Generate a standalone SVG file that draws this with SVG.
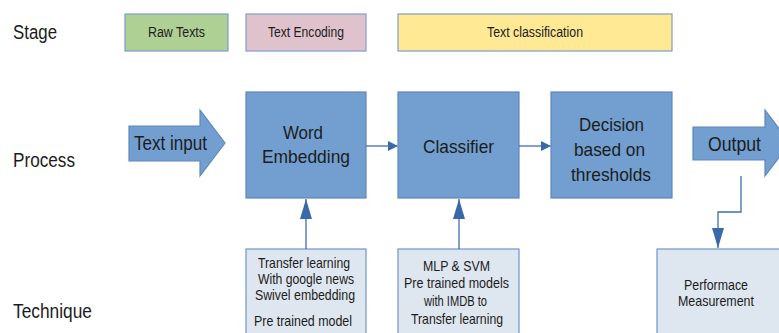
<svg xmlns="http://www.w3.org/2000/svg" width="779" height="333" viewBox="0 0 779 333">
<style>
text{font-family:"Liberation Sans",Arial,sans-serif;fill:#1c1c1c}
.lbl{font-size:19.5px}
.stg{font-size:14px}
.big{font-size:18.5px}
.sm{font-size:15px}
.blue{fill:#729fcf;stroke:#5f87bd;stroke-width:1.2}
.tech{fill:#dee6ef;stroke:#7195c6;stroke-width:1.2}
.stage{stroke:#7f9dc7;stroke-width:1.2}
.con{fill:none;stroke:#3f6eae;stroke-width:1.3}
</style>
<defs>
<marker id="ah" markerWidth="10" markerHeight="10" refX="9" refY="5" orient="auto" markerUnits="userSpaceOnUse">
<path d="M0,0 L10,5 L0,10 Z" fill="#3a69ab"/>
</marker>
<marker id="ahv" markerWidth="20" markerHeight="12" refX="20" refY="6" orient="auto" markerUnits="userSpaceOnUse">
<path d="M0,0 L20,6 L0,12 Z" fill="#3a69ab"/>
</marker>
</defs>
<rect width="779" height="333" fill="#ffffff"/>

<g id="row-labels">
<text class="lbl" x="13" y="39" textLength="44" lengthAdjust="spacingAndGlyphs">Stage</text>
<text class="lbl" x="13" y="167" textLength="62" lengthAdjust="spacingAndGlyphs">Process</text>
<text class="lbl" x="13" y="318" textLength="79" lengthAdjust="spacingAndGlyphs">Technique</text>
</g>

<g id="stage-raw">
<rect class="stage" x="125" y="14" width="103" height="37" fill="#afd095"/>
<text class="stg" x="148" y="37" textLength="57" lengthAdjust="spacingAndGlyphs">Raw Texts</text>
</g>
<g id="stage-encoding">
<rect class="stage" x="246" y="14" width="120" height="37" fill="#e0c2cd"/>
<text class="stg" x="268" y="37" textLength="76" lengthAdjust="spacingAndGlyphs">Text Encoding</text>
</g>
<g id="stage-classification">
<rect class="stage" x="398" y="14" width="274" height="37" fill="#ffe994"/>
<text class="stg" x="487" y="37" textLength="96" lengthAdjust="spacingAndGlyphs">Text classification</text>
</g>

<g id="text-input">
<path class="blue" d="M129,126 L200,126 L200,110 L225,143 L200,176 L200,161 L129,161 Z"/>
<text class="lbl" x="134" y="150" textLength="73" lengthAdjust="spacingAndGlyphs">Text input</text>
</g>

<g id="word-embedding">
<rect class="blue" x="246" y="92" width="120" height="106"/>
<text class="big" x="283" y="139" textLength="40" lengthAdjust="spacingAndGlyphs">Word</text>
<text class="big" x="262" y="163" textLength="88" lengthAdjust="spacingAndGlyphs">Embedding</text>
</g>

<g id="classifier">
<rect class="blue" x="398" y="92" width="121" height="106"/>
<text class="big" x="423" y="153" textLength="71" lengthAdjust="spacingAndGlyphs">Classifier</text>
</g>

<g id="decision">
<rect class="blue" x="551" y="92" width="121" height="106"/>
<text class="big" x="579" y="131" textLength="65" lengthAdjust="spacingAndGlyphs">Decision</text>
<text class="big" x="574" y="156" textLength="71" lengthAdjust="spacingAndGlyphs">based on</text>
<text class="big" x="571" y="181" textLength="80" lengthAdjust="spacingAndGlyphs">thresholds</text>
</g>

<g id="output">
<path class="blue" d="M693,127 L765,127 L765,110 L790,143 L765,176 L765,160 L693,160 Z"/>
<text class="lbl" x="708" y="151" textLength="53" lengthAdjust="spacingAndGlyphs">Output</text>
</g>

<g id="tech-embedding">
<rect class="tech" x="246" y="249" width="120" height="90"/>
<text class="sm" x="258" y="268" textLength="92" lengthAdjust="spacingAndGlyphs">Transfer learning</text>
<text class="sm" x="258" y="284" textLength="96" lengthAdjust="spacingAndGlyphs">With google news</text>
<text class="sm" x="255" y="300" textLength="100" lengthAdjust="spacingAndGlyphs">Swivel embedding</text>
<text class="sm" x="254" y="326" textLength="98" lengthAdjust="spacingAndGlyphs">Pre trained model</text>
</g>

<g id="tech-classifier">
<rect class="tech" x="398" y="249" width="121" height="90"/>
<text class="sm" x="423" y="271" textLength="67" lengthAdjust="spacingAndGlyphs">MLP &amp; SVM</text>
<text class="sm" x="404" y="288" textLength="105" lengthAdjust="spacingAndGlyphs">Pre trained models</text>
<text class="sm" x="424" y="306" textLength="63" lengthAdjust="spacingAndGlyphs">with IMDB to</text>
<text class="sm" x="411" y="324" textLength="92" lengthAdjust="spacingAndGlyphs">Transfer learning</text>
</g>

<g id="tech-performance">
<rect class="tech" x="657" y="249" width="125" height="90"/>
<text class="sm" x="684" y="290" textLength="64" lengthAdjust="spacingAndGlyphs">Performace</text>
<text class="sm" x="678" y="306" textLength="76" lengthAdjust="spacingAndGlyphs">Measurement</text>
</g>

<g id="connectors">
<line class="con" x1="366" y1="146" x2="397" y2="146" marker-end="url(#ah)"/>
<line class="con" x1="519" y1="146" x2="550" y2="146" marker-end="url(#ah)"/>
<line class="con" x1="306" y1="249" x2="306" y2="199" marker-end="url(#ahv)"/>
<line class="con" x1="459" y1="249" x2="459" y2="199" marker-end="url(#ahv)"/>
<polyline class="con" points="741,176 741,212 718,212 718,248" marker-end="url(#ahv)"/>
</g>
</svg>
